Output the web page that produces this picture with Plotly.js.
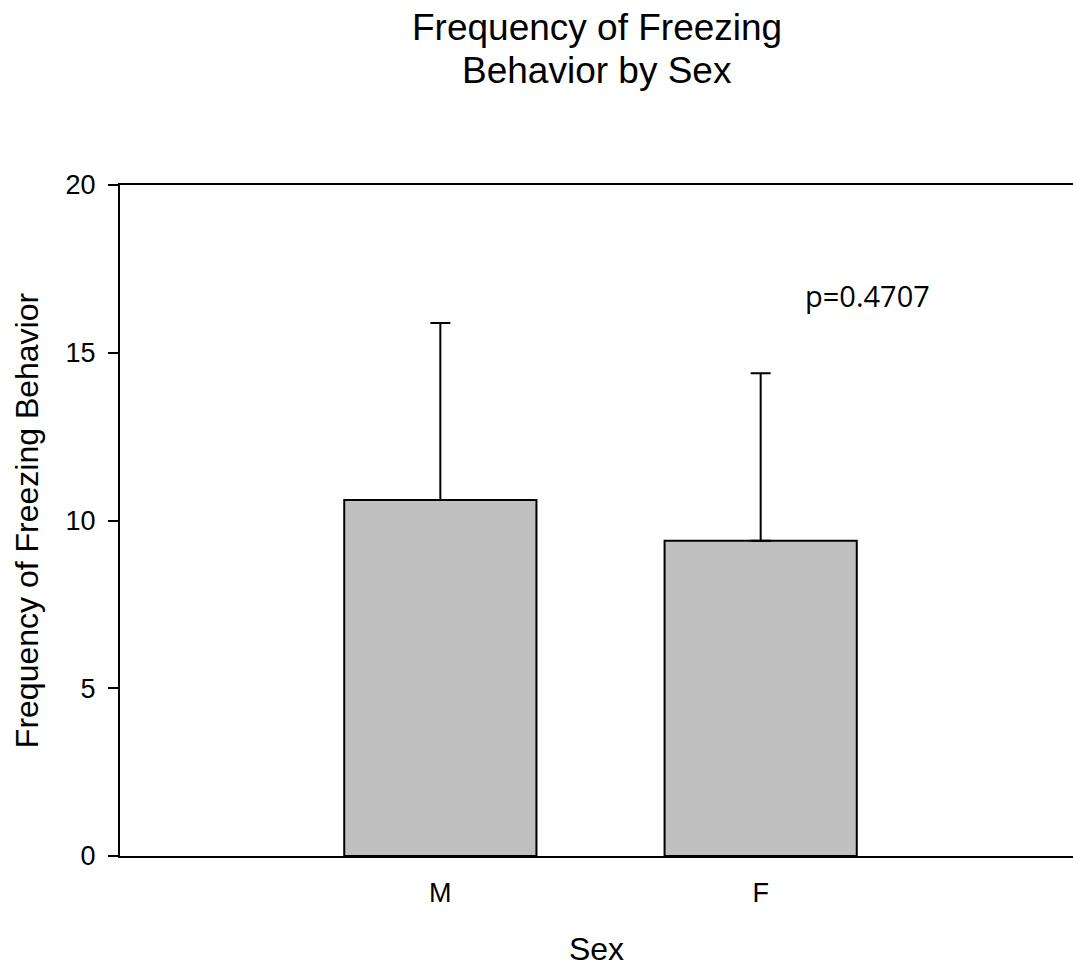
<!DOCTYPE html>
<html>
<head>
<meta charset="utf-8">
<script src="https://cdn.plot.ly/plotly-3.0.1.min.js"></script>
<style>html,body{margin:0;padding:0;background:#fff;}</style>
</head>
<body>
<div id="chart" style="width:1073px;height:969px;"></div>
<script>
const categories = ["M", "F"];
const meanValues = [10.61, 9.40];
const sdValues = [5.28, 4.99];
const yTickValues = [0, 5, 10, 15, 20];
const yTickLabels = ["0", "5", "10", "15", "20"];
const titleLines = ["Frequency of Freezing", "Behavior by Sex"];
const pValueText = "p=0.4707";

const FONT = '"Liberation Sans", Arial, sans-serif';

const trace = {
  type: 'bar',
  x: [0, 1],
  y: meanValues,
  width: 0.6,
  marker: { color: '#c0c0c0', line: { color: '#000', width: 2 } },
  error_y: {
    type: 'data',
    symmetric: false,
    array: sdValues,
    arrayminus: [0, 0],
    color: '#000',
    thickness: 2,
    width: 10
  },
  hoverinfo: 'skip'
};

const layout = {
  width: 1073,
  height: 969,
  margin: { l: 120, r: 0, t: 185, b: 113 },
  paper_bgcolor: '#fff',
  plot_bgcolor: '#fff',
  showlegend: false,
  font: { family: FONT, color: '#000' },
  xaxis: {
    range: [-1, 1.975],
    tickvals: [0, 1],
    ticktext: categories,
    ticks: '',
    showline: true,
    linecolor: '#000',
    linewidth: 2,
    mirror: true,
    showgrid: false,
    zeroline: false,
    tickfont: { family: FONT, size: 27, color: '#000' },
    ticklabelstandoff: 12,
    title: { text: 'Sex', font: { family: FONT, size: 32, color: '#000' }, standoff: 30 }
  },
  yaxis: {
    range: [0, 20],
    tickvals: yTickValues,
    ticktext: yTickLabels,
    ticks: 'outside',
    ticklen: 10,
    tickwidth: 2,
    tickcolor: '#000',
    showline: true,
    linecolor: '#000',
    linewidth: 2,
    mirror: false,
    showgrid: false,
    zeroline: false,
    tickfont: { family: FONT, size: 27, color: '#000' },
    ticklabelstandoff: 7,
    title: { text: 'Frequency of Freezing Behavior', font: { family: FONT, size: 32, color: '#000' }, standoff: 17 }
  },
  annotations: [
    {
      text: titleLines[0],
      x: 0.5, xref: 'paper', xanchor: 'center',
      y: (856 - 27) / 671, yref: 'paper', yanchor: 'middle',
      showarrow: false,
      font: { family: FONT, size: 37, color: '#000' }
    },
    {
      text: titleLines[1],
      x: 0.5, xref: 'paper', xanchor: 'center',
      y: (856 - 70) / 671, yref: 'paper', yanchor: 'middle',
      showarrow: false,
      font: { family: FONT, size: 37, color: '#000' }
    },
    {
      text: pValueText,
      x: 1.335, y: 16.7, xref: 'x', yref: 'y',
      showarrow: false,
      font: { family: '"Open Sans", "Noto Sans", sans-serif', size: 29, color: '#000' }
    }
  ]
};

Plotly.newPlot('chart', [trace], layout, { displayModeBar: false, staticPlot: true });
</script>
</body>
</html>
